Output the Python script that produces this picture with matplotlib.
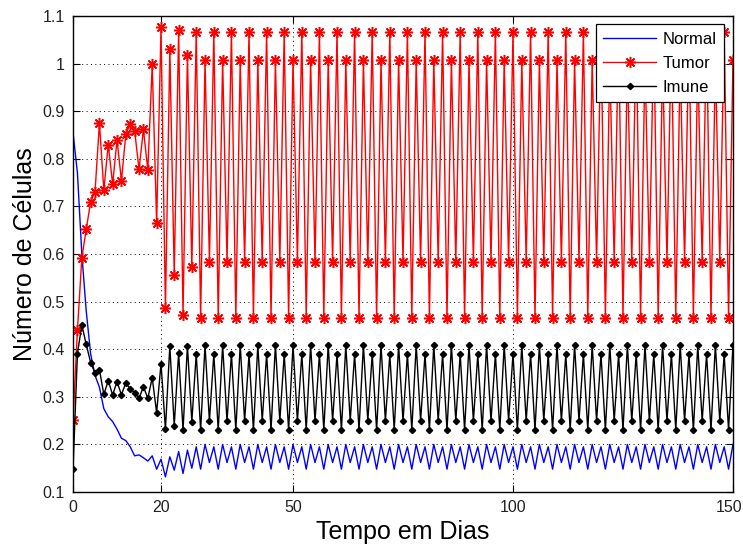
import numpy as np
import matplotlib as mpl
mpl.use('Agg')
import matplotlib.pyplot as plt
import matplotlib.transforms as mtransforms

plt.rcParams['font.family'] = ['Liberation Sans', 'DejaVu Sans']

# dias 0..150
dias = np.arange(0, 151)

tumor = [
    0.251, 0.440, 0.592, 0.652, 0.710, 0.731, 0.875, 0.734, 0.830, 0.747,
    0.840, 0.754, 0.852, 0.873, 0.859, 0.778, 0.862, 0.776, 0.999, 0.666,
    1.076, 0.486, 1.030, 0.556, 1.071, 0.472, 1.018, 0.572,
    1.067, 0.466, 1.008, 0.584, 1.067, 0.466, 1.008, 0.584,
    1.067, 0.466, 1.008, 0.584, 1.067, 0.466, 1.008, 0.584,
    1.067, 0.466, 1.008, 0.584, 1.067, 0.466, 1.008, 0.584,
    1.067, 0.466, 1.008, 0.584, 1.067, 0.466, 1.008, 0.584,
    1.067, 0.466, 1.008, 0.584, 1.067, 0.466, 1.008, 0.584,
    1.067, 0.466, 1.008, 0.584, 1.067, 0.466, 1.008, 0.584,
    1.067, 0.466, 1.008, 0.584, 1.067, 0.466, 1.008, 0.584,
    1.067, 0.466, 1.008, 0.584, 1.067, 0.466, 1.008, 0.584,
    1.067, 0.466, 1.008, 0.584, 1.067, 0.466, 1.008, 0.584,
    1.067, 0.466, 1.008, 0.584, 1.067, 0.466, 1.008, 0.584,
    1.067, 0.466, 1.008, 0.584, 1.067, 0.466, 1.008, 0.584,
    1.067, 0.466, 1.008, 0.584, 1.067, 0.466, 1.008, 0.584,
    1.067, 0.466, 1.008, 0.584, 1.067, 0.466, 1.008, 0.584,
    1.067, 0.466, 1.008, 0.584, 1.067, 0.466, 1.008, 0.584,
    1.067, 0.466, 1.008, 0.584, 1.067, 0.466, 1.008, 0.584,
    1.067, 0.466, 1.008,
]

imune = [
    0.148, 0.391, 0.451, 0.410, 0.372, 0.350, 0.357, 0.305, 0.334, 0.304,
    0.332, 0.304, 0.330, 0.316, 0.309, 0.297, 0.321, 0.297, 0.340, 0.267,
    0.370, 0.232, 0.407, 0.239, 0.393, 0.230, 0.407, 0.248,
    0.390, 0.230, 0.409, 0.249, 0.390, 0.230, 0.409, 0.249,
    0.390, 0.230, 0.409, 0.249, 0.390, 0.230, 0.409, 0.249,
    0.390, 0.230, 0.409, 0.249, 0.390, 0.230, 0.409, 0.249,
    0.390, 0.230, 0.409, 0.249, 0.390, 0.230, 0.409, 0.249,
    0.390, 0.230, 0.409, 0.249, 0.390, 0.230, 0.409, 0.249,
    0.390, 0.230, 0.409, 0.249, 0.390, 0.230, 0.409, 0.249,
    0.390, 0.230, 0.409, 0.249, 0.390, 0.230, 0.409, 0.249,
    0.390, 0.230, 0.409, 0.249, 0.390, 0.230, 0.409, 0.249,
    0.390, 0.230, 0.409, 0.249, 0.390, 0.230, 0.409, 0.249,
    0.390, 0.230, 0.409, 0.249, 0.390, 0.230, 0.409, 0.249,
    0.390, 0.230, 0.409, 0.249, 0.390, 0.230, 0.409, 0.249,
    0.390, 0.230, 0.409, 0.249, 0.390, 0.230, 0.409, 0.249,
    0.390, 0.230, 0.409, 0.249, 0.390, 0.230, 0.409, 0.249,
    0.390, 0.230, 0.409, 0.249, 0.390, 0.230, 0.409, 0.249,
    0.390, 0.230, 0.409, 0.249, 0.390, 0.230, 0.409, 0.249,
    0.390, 0.230, 0.409,
]

normal = [
    0.855, 0.770, 0.600, 0.480, 0.390, 0.345, 0.320, 0.275, 0.258, 0.248,
    0.232, 0.213, 0.208, 0.195, 0.176, 0.178, 0.172, 0.165, 0.176, 0.148,
    0.169, 0.132, 0.174, 0.146, 0.185, 0.139, 0.188, 0.150,
    0.195, 0.148, 0.200, 0.162, 0.195, 0.148, 0.200, 0.162,
    0.195, 0.148, 0.200, 0.162, 0.195, 0.148, 0.200, 0.162,
    0.195, 0.148, 0.200, 0.162, 0.195, 0.148, 0.200, 0.162,
    0.195, 0.148, 0.200, 0.162, 0.195, 0.148, 0.200, 0.162,
    0.195, 0.148, 0.200, 0.162, 0.195, 0.148, 0.200, 0.162,
    0.195, 0.148, 0.200, 0.162, 0.195, 0.148, 0.200, 0.162,
    0.195, 0.148, 0.200, 0.162, 0.195, 0.148, 0.200, 0.162,
    0.195, 0.148, 0.200, 0.162, 0.195, 0.148, 0.200, 0.162,
    0.195, 0.148, 0.200, 0.162, 0.195, 0.148, 0.200, 0.162,
    0.195, 0.148, 0.200, 0.162, 0.195, 0.148, 0.200, 0.162,
    0.195, 0.148, 0.200, 0.162, 0.195, 0.148, 0.200, 0.162,
    0.195, 0.148, 0.200, 0.162, 0.195, 0.148, 0.200, 0.162,
    0.195, 0.148, 0.200, 0.162, 0.195, 0.148, 0.200, 0.162,
    0.195, 0.148, 0.200, 0.162, 0.195, 0.148, 0.200, 0.162,
    0.195, 0.148, 0.200, 0.162, 0.195, 0.148, 0.200, 0.162,
    0.195, 0.148, 0.200,
]

xticks = [0, 20, 50, 100, 150]
yticks = [0.1, 0.2, 0.3, 0.4, 0.5, 0.6, 0.7, 0.8, 0.9, 1.0, 1.1]
ylabels = ['0.1', '0.2', '0.3', '0.4', '0.5', '0.6', '0.7', '0.8', '0.9', '1', '1.1']


fig = plt.figure(figsize=(7.43, 5.47), dpi=100)
fig.subplots_adjust(left=0.0983, right=0.9865, bottom=0.1005, top=0.9707)
ax = fig.add_subplot(1, 1, 1)

ax.plot(dias, normal, color='blue', lw=1.0, label='Normal')
ax.plot(dias, tumor, color='red', lw=1.0, marker=(8, 2, 0), ms=8, mew=1.1,
        label='Tumor')
ax.plot(dias, imune, color='black', lw=1.0, marker='D', ms=3.2,
        label='Imune')

ax.set_xlim(0, 150)
ax.set_ylim(0.1, 1.1)
ax.set_xticks(xticks)
ax.set_yticks(yticks)
ax.set_yticklabels(ylabels)
ax.tick_params(direction='in', labelsize=11.5, right=True, top=True, length=5,
               width=0.8, pad=6)
for lab in ax.get_xticklabels() + ax.get_yticklabels():
    lab.set_color('#222222')
# keep the last x label inside the figure, as in the original
last = ax.get_xticklabels()[-1]
last.set_transform(last.get_transform() +
                   mtransforms.ScaledTranslation(-4 / 100, 0, fig.dpi_scale_trans))
ax.grid(True, color='black', lw=0.7, ls=(0, (1, 3.5)))
for s in ax.spines.values():
    s.set_linewidth(1.0)

ax.set_xlabel('Tempo em Dias', fontsize=18, labelpad=3)
ax.set_ylabel('Número de Células', fontsize=18, labelpad=4)

leg = ax.legend(loc='upper right', bbox_to_anchor=(0.986, 0.983), fontsize=12,
                fancybox=False, framealpha=1, edgecolor='black',
                handlelength=3.2, handletextpad=0.35, borderpad=0.45,
                labelspacing=0.55, borderaxespad=0)
leg.get_frame().set_linewidth(0.9)

fig.savefig('out.png', dpi=100)
